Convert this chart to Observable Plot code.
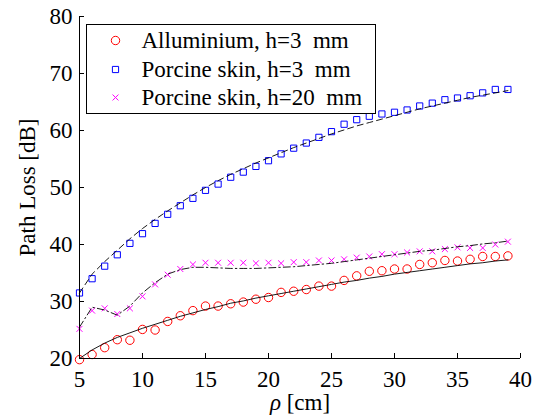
<!DOCTYPE html>
<html><head><meta charset="utf-8">
<script src="https://cdn.jsdelivr.net/npm/d3@7"></script>
<script src="https://cdn.jsdelivr.net/npm/@observablehq/plot@0.6"></script>
<style>
body{margin:0;background:#fff}
svg text, svg tspan{font-family:"Liberation Serif",serif !important}
</style>
</head><body><div id="chart"></div>
<script>
const rho = [5,6,7,8,9,10,11,12,13,14,15,16,17,18,19,20,21,22,23,24,25,26,27,28,29,30,31,32,33,34,35,36,37,38,39];
const alumMeas = [19.8,20.7,21.9,23.3,23.2,25.1,25.0,26.5,27.5,28.4,29.2,29.2,29.6,29.9,30.4,30.7,31.6,31.8,32.1,32.7,32.7,33.7,34.5,35.3,35.4,35.7,35.7,36.5,36.8,37.2,37.1,37.4,37.9,37.9,38.0];
const alumFit = [20.0,21.5,22.7,23.7,24.5,25.3,26.0,26.7,27.4,28.0,28.6,29.1,29.7,30.1,30.6,31.0,31.4,31.8,32.2,32.6,33.0,33.4,33.7,34.1,34.4,34.8,35.1,35.4,35.7,36.0,36.3,36.6,36.8,37.1,37.3];
const skin3Meas = [31.5,34.0,36.2,38.2,40.2,41.9,43.7,45.3,46.8,48.1,49.5,50.6,51.8,52.7,53.7,54.7,55.9,56.9,57.8,58.8,59.8,61.1,61.9,62.5,62.9,63.2,63.6,64.3,64.8,65.4,65.7,66.1,66.6,67.2,67.2];
const skin3Fit = [31.5,34.8,37.0,39.0,41.0,42.8,44.4,45.9,47.3,48.7,50.0,51.2,52.3,53.3,54.3,55.2,56.1,57.0,57.8,58.6,59.4,60.1,60.8,61.4,62.0,62.6,63.2,63.8,64.3,64.8,65.3,65.8,66.2,66.6,67.0];
const skin20Meas = [25.2,28.4,28.8,27.8,28.8,30.9,33.0,34.7,35.7,36.5,36.8,36.8,36.8,36.8,36.7,36.8,36.7,36.9,36.9,37.2,37.2,37.4,37.7,37.9,38.3,38.3,38.6,38.8,38.8,39.2,39.5,39.4,39.4,40.0,40.5];
const skin20Fit = [25.5,29.0,28.5,27.6,29.2,31.5,33.3,34.8,35.6,36.0,36.0,35.9,35.8,35.8,35.8,35.9,36.0,36.1,36.3,36.5,36.7,37.0,37.3,37.6,37.9,38.2,38.5,38.8,39.0,39.3,39.6,39.8,40.1,40.3,40.6];
const seriesNames = ["Alluminium, h=3\u2002mm", "Porcine skin, h=3\u2002mm", "Porcine skin, h=20\u2002mm"];
const seriesColors = ["#ff0000", "#0000ff", "#ff00ff"];
const seriesSymbols = ["circle", "square", "times"];
const xTicks = [5,10,15,20,25,30,35,40];
const yTicks = [20,30,40,50,60,70,80];
const xLabel = "ρ [cm]";
const yLabel = "Path Loss [dB]";

const rows = vals => rho.map((x, i) => ({x, y: vals[i]}));
const W = 541, H = 416, mL = 79, mR = 21, mT = 16, mB = 58;
const pw = W - mL - mR, ph = H - mT - mB;
const symR = [4.2, 3.5, 2.8];
const legendDy = [24, 53, 81];
const FS = 23;
const FF = "Liberation Serif";

const legendMarks = [];
seriesNames.forEach((name, i) => {
  legendMarks.push(Plot.dot([name], {frameAnchor: "top-left", dx: 36, dy: legendDy[i], symbol: seriesSymbols[i], r: symR[i], stroke: seriesColors[i], fill: "none", strokeWidth: 1}));
  legendMarks.push(Plot.text([name], {text: d => d, frameAnchor: "top-left", dx: 62, dy: legendDy[i], textAnchor: "start", lineAnchor: "middle", fontSize: FS, fontFamily: FF, fill: "black"}));
});

const chart = Plot.plot({
  width: W, height: H,
  marginLeft: mL, marginRight: mR, marginTop: mT, marginBottom: mB,
  style: "font-family: 'Liberation Serif', serif; font-size: 23px; background: white; color: black; overflow: visible;",
  x: {domain: [xTicks[0], xTicks[xTicks.length-1]]},
  y: {domain: [yTicks[0], yTicks[yTicks.length-1]]},
  marks: [
    Plot.dot(rows(alumMeas), {x: "x", y: "y", symbol: seriesSymbols[0], r: symR[0], stroke: seriesColors[0], fill: "none", strokeWidth: 1}),
    Plot.dot(rows(skin3Meas), {x: "x", y: "y", symbol: seriesSymbols[1], r: symR[1], stroke: seriesColors[1], fill: "none", strokeWidth: 1}),
    Plot.dot(rows(skin20Meas), {x: "x", y: "y", symbol: seriesSymbols[2], r: symR[2], stroke: seriesColors[2], fill: "none", strokeWidth: 1}),
    Plot.line(rows(alumFit), {x: "x", y: "y", stroke: "black", strokeWidth: 0.9}),
    Plot.line(rows(skin3Fit), {x: "x", y: "y", stroke: "black", strokeWidth: 0.9, strokeDasharray: "6,4"}),
    Plot.line(rows(skin20Fit), {x: "x", y: "y", stroke: "black", strokeWidth: 0.9, strokeDasharray: "7,3,1.5,3"}),
    Plot.ruleX([xTicks[0]], {stroke: "black", strokeWidth: 1}),
    Plot.ruleY([yTicks[0]], {stroke: "black", strokeWidth: 1}),
    Plot.tickX(xTicks, {x: d => d, insetTop: ph - 5, stroke: "black", strokeWidth: 1}),
    Plot.tickY(yTicks, {y: d => d, insetRight: pw - 5, stroke: "black", strokeWidth: 1}),
    Plot.axisX({ticks: xTicks, tickSize: 0, tickPadding: 12, label: null, fontSize: FS, fontFamily: FF, tickFormat: d => String(d)}),
    Plot.axisY({ticks: yTicks, tickSize: 0, tickPadding: 7, label: null, fontSize: FS, fontFamily: FF, tickFormat: d => String(d)}),
    Plot.text([yLabel], {text: d => d, frameAnchor: "left", dx: -52, rotate: -90, textAnchor: "middle", lineAnchor: "middle", fontSize: FS, fontFamily: FF, fill: "black"}),
    Plot.text([xLabel], {text: d => d, frameAnchor: "bottom", dy: 44, textAnchor: "middle", lineAnchor: "middle", fontSize: FS, fontFamily: FF, fill: "black"}),
    Plot.frame({fill: "white", stroke: "black", strokeWidth: 1, insetLeft: 7, insetTop: 8, insetRight: 145, insetBottom: 245}),
    ...legendMarks
  ]
});
chart.setAttribute("font-family", FF);
const st = document.createElementNS("http://www.w3.org/2000/svg", "style");
st.textContent = "text, tspan { font-family: 'Liberation Serif', serif !important; }";
chart.insertBefore(st, chart.firstChild);
chart.querySelectorAll("g").forEach(g => { if (g.hasAttribute("font-family")) g.setAttribute("font-family", FF); });
chart.querySelectorAll("text").forEach(t => {
  t.setAttribute("font-family", FF);
  t.setAttribute("style", "font-family: 'Liberation Serif', serif !important");
  if (t.textContent === xLabel) {
    const rest = xLabel.slice(1);
    t.textContent = "";
    const a = document.createElementNS("http://www.w3.org/2000/svg", "tspan");
    a.setAttribute("font-style", "italic");
    a.textContent = xLabel[0];
    const b = document.createElementNS("http://www.w3.org/2000/svg", "tspan");
    b.textContent = rest;
    t.appendChild(a); t.appendChild(b);
  }
});
document.getElementById("chart").appendChild(chart);
</script>
</body></html>
